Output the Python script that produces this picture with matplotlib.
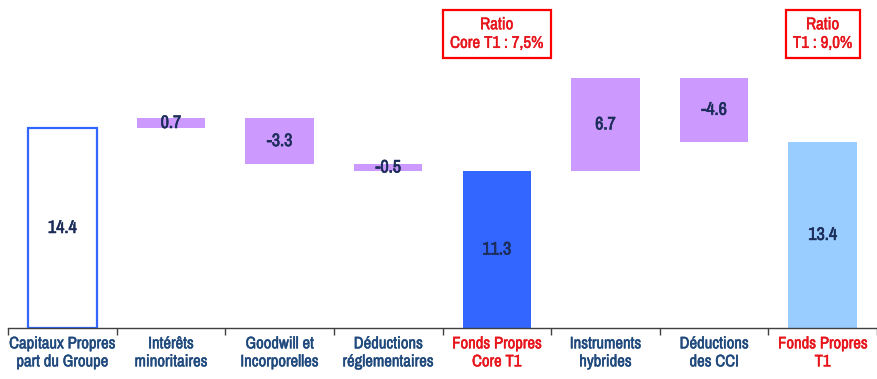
import matplotlib
matplotlib.use("Agg")
import matplotlib.pyplot as plt
from matplotlib import font_manager
import matplotlib.patheffects as pe
import numpy as np

# Data
categories = ["Capitaux Propres\npart du Groupe", "Intérêts\nminoritaires", "Goodwill et\nIncorporelles",
              "Déductions\nréglementaires", "Fonds Propres\nCore T1", "Instruments\nhybrides",
              "Déductions\ndes CCI", "Fonds Propres\nT1"]
values = [14.4, 0.7, -3.3, -0.5, 11.3, 6.7, -4.6, 13.4]
is_total = [True, False, False, False, True, False, False, True]
label_colors = ["#1F497D", "#1F497D", "#1F497D", "#1F497D", "#E8141B", "#1F497D", "#1F497D", "#E8141B"]
ratio_texts = {4: "Ratio\nCore T1 : 7,5%", 7: "Ratio\nT1 : 9,0%"}

# look for a narrow font, fall back on condensed DejaVu
installed = {f.name for f in font_manager.fontManager.ttflist}
narrow = [n for n in installed if "Narrow" in n or "Condensed" in n]
if narrow:
    plt.rcParams['font.family'] = [sorted(narrow)[0], 'DejaVu Sans']
else:
    plt.rcParams['font.family'] = ['DejaVu Sans']
    plt.rcParams['font.stretch'] = 'condensed'


def thick(c, lw=0.6):
    return [pe.withStroke(linewidth=lw, foreground=c)]


fig = plt.figure(figsize=(8.77, 3.79), dpi=100)
ax = fig.add_axes([8 / 877, 51 / 379, 869 / 877, 328 / 379])

# waterfall bottoms/heights
bottoms, heights = [], []
running = 0.0
for v, tot in zip(values, is_total):
    if tot:
        bottoms.append(0)
        heights.append(v)
        running = v
    else:
        lo = min(running, running + v)
        bottoms.append(lo)
        heights.append(abs(v))
        running += v

x = np.arange(len(values))
w = 0.63
face = ["white", "#CC99FF", "#CC99FF", "#CC99FF", "#3366FF", "#CC99FF", "#CC99FF", "#99CCFF"]
edge = ["#3366FF", "none", "none", "none", "none", "none", "none", "none"]
for i in range(len(values)):
    ax.bar(x[i], heights[i], bottom=bottoms[i], width=w, color=face[i],
           edgecolor=edge[i], linewidth=1.6 if i == 0 else 0, zorder=2)
    ax.text(x[i], bottoms[i] + heights[i] / 2, f"{values[i]:.1f}", ha="center", va="center",
            fontsize=13, color="#1C2D5A", fontweight="bold", zorder=3,
            path_effects=thick("#1C2D5A", 0.45))

for i, t in ratio_texts.items():
    ax.text(x[i], 21.15, t, ha="center", va="center", fontsize=12.2, color="#E8141B",
            linespacing=1.3, path_effects=thick("#E8141B", 0.3),
            bbox=dict(boxstyle="square,pad=0.42", facecolor="white", edgecolor="#FF0000", linewidth=1.6))

ax.set_xlim(-0.5, len(values) - 0.5)
ax.set_ylim(0, 23.6)
ax.set_yticks([])
for s in ["top", "right", "left"]:
    ax.spines[s].set_visible(False)
ax.spines["bottom"].set_color("#404040")
ax.spines["bottom"].set_linewidth(1.0)

ax.set_xticks(x)
ax.set_xticklabels(categories, fontsize=12, fontweight="bold", linespacing=1.25)
for lbl, c in zip(ax.get_xticklabels(), label_colors):
    lbl.set_color(c)
    lbl.set_path_effects(thick(c, 0.35))
ax.tick_params(axis="x", which="major", length=0, pad=6)
ax.set_xticks(np.arange(-0.5, len(values)), minor=True)
ax.tick_params(axis="x", which="minor", length=5, width=1.0, color="#404040", direction="out")

fig.savefig("out.png", dpi=100)
